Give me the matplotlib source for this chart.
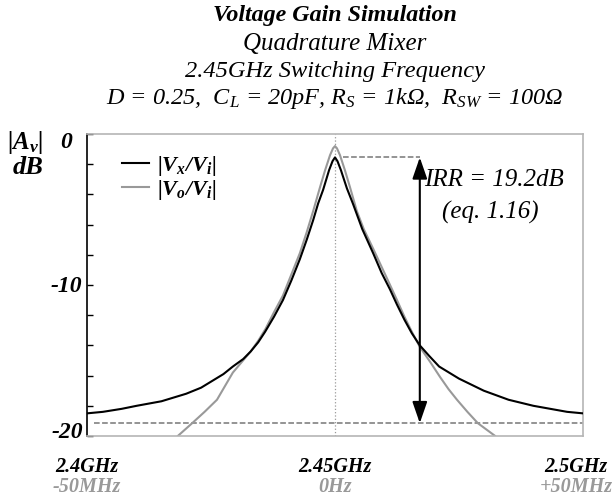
import matplotlib
matplotlib.use("Agg")
import matplotlib.pyplot as plt

plt.rcParams['font.family'] = ['Liberation Serif', 'DejaVu Serif']
plt.rcParams['mathtext.fontset'] = 'custom'
plt.rcParams['mathtext.rm'] = 'Liberation Serif'
plt.rcParams['mathtext.it'] = 'Liberation Serif:italic'
plt.rcParams['mathtext.bf'] = 'Liberation Serif:bold'
plt.rcParams['mathtext.bfit'] = 'Liberation Serif:italic:bold'

# offset from 2.45GHz, MHz / gain, dB
f_vx = [-50, -46.8, -43, -40, -35, -30, -27, -25, -22.5, -20.6, -18.5, -17, -15.5, -14.1, -12.3, -10.5, -8.8, -7.1,
        -5.7, -4.4, -3.4, -2.4, -1.2, -0.5, 0,
        0.5, 1.2, 2.4, 3.6, 5.5, 7.7, 9.4, 11.1, 12.5, 14, 15.5, 17.1, 19, 21, 23, 25, 27.5, 30, 35, 40, 46.8, 50]
vx = [-18.5, -18.4, -18.2, -18.0, -17.7, -17.2, -16.8, -16.4, -15.9, -15.4, -14.9, -14.4, -13.8, -13.1, -12.1, -11.0, -9.7, -8.3,
      -7.0, -5.7, -4.6, -3.7, -2.4, -1.8, -1.55,
      -1.8, -2.4, -3.6, -4.6, -6.3, -7.9, -9.2, -10.3, -11.3, -12.3, -13.2, -14.0, -14.7, -15.4, -15.8, -16.2, -16.6, -17.0,
      -17.6, -18.0, -18.4, -18.5]

f_vo = [-34, -31.7, -28.8, -26.3, -23.8, -22.2, -20.6, -18.8, -17, -15.5, -14, -12.3, -10.5, -8.8, -7.1, -5.7, -4.4, -3,
        -2, -1, -0.4, 0,
        0.4, 1, 2, 3, 4.4, 5.8, 7.7, 9.4, 11.1, 12.5, 14, 15.5, 17.1, 19.2, 21.2, 22.9, 24.6, 26.7, 28.8, 32.3, 34.5]
vo = [-21.3, -20.0, -19.15, -18.4, -17.6, -16.7, -15.8, -15.1, -14.4, -13.7, -12.9, -11.8, -10.7, -9.3, -7.9, -6.5, -5.1,
      -3.5, -2.4, -1.4, -0.95, -0.8,
      -0.95, -1.4, -2.4, -3.5, -5.1, -6.3, -7.6, -8.8, -10.0, -11.0, -12.1, -13.1, -14.1, -15.1, -16.1, -16.9, -17.6, -18.4,
      -19.15, -20.0, -21.3]

peak_db = -1.55
floor_db = -19.15
f_arrow = 17.1
yticks = [0, -10, -20]
ylabels = ['0', '-10', '-20']
xlabels_top = ['2.4GHz', '2.45GHz', '2.5GHz']
xlabels_bot = ['-50MHz', '0Hz', '+50MHz']
xpos = [-50, 0, 48.6]

fig = plt.figure(figsize=(6.13, 5.0), dpi=100)
ax = fig.add_axes([0.142, 0.128, 0.809, 0.604])

ax.axvline(0, color='#999999', ls=':', lw=0.9)
ax.plot([1.6, f_arrow], [peak_db, peak_db], color='#777777', ls='--', lw=1.1)
ax.plot([-48.5, 50], [floor_db, floor_db], color='#777777', ls='--', lw=1.1)

ax.plot(f_vx, vx, color='black', lw=1.5, label=r'$\mathbfit{|V_x/V_i|}$', zorder=3)
ax.plot(f_vo, vo, color='#999999', lw=1.5, label=r'$\mathbfit{|V_o/V_i|}$', zorder=2)

ax.annotate('', xy=(f_arrow, floor_db), xytext=(f_arrow, peak_db),
            arrowprops=dict(arrowstyle='<|-|>,head_length=1.3,head_width=0.45', color='black', lw=1.5,
                            mutation_scale=10, shrinkA=0, shrinkB=0))
ax.text(17.9, -3.05, 'IRR = 19.2dB', fontsize=18, style='italic', ha='left', va='center')
ax.text(31.3, -5.2, '(eq. 1.16)', fontsize=18, style='italic', ha='center', va='center')

ax.set_xlim(-50, 50)
ax.set_ylim(-20, 0)
ax.set_xticks([])
ax.set_yticks(yticks)
ax.set_yticks(range(-20, 1, 2), minor=True)
ax.set_yticklabels([])
ax.tick_params(axis='y', which='both', direction='in', length=4, width=1)

# y tick labels placed by hand, the "0" sits a bit lower and further out
ytr = ax.get_yaxis_transform()
label_x = [-0.030, -0.010, -0.008]
label_y = [-0.55, -10.1, -19.8]
for lx, ly, t in zip(label_x, label_y, ylabels):
    ax.text(lx, ly, t, transform=ytr, fontsize=17, fontweight='bold', style='italic', ha='right', va='center')

for s in ['top', 'right', 'bottom']:
    ax.spines[s].set_color('#b5b5b5')
    ax.spines[s].set_linewidth(1.2)
ax.spines['left'].set_color('black')
ax.spines['left'].set_linewidth(1.2)

for x, t1, t2 in zip(xpos, xlabels_top, xlabels_bot):
    ax.text(x, -22.05, t1, fontsize=14.5, fontweight='bold', style='italic', ha='center', va='center')
    ax.text(x, -23.4, t2, fontsize=14.5, fontweight='bold', style='italic', color='#999999',
            ha='center', va='center')

leg = ax.legend(loc='upper left', bbox_to_anchor=(0.03, 1.0), frameon=False, fontsize=16,
                handlelength=1.2, handletextpad=0.4, labelspacing=0.0)

fig.text(0.041, 0.716, r'$\mathbfit{|A_v|}$', fontsize=18, ha='center', va='center')
fig.text(0.046, 0.666, 'dB', fontsize=19, fontweight='bold', style='italic', ha='center', va='center')

fig.text(0.546, 0.968, 'Voltage Gain Simulation', fontsize=17.3, fontweight='bold', style='italic',
         ha='center', va='center')
fig.text(0.546, 0.913, 'Quadrature Mixer', fontsize=18, style='italic', ha='center', va='center')
fig.text(0.546, 0.858, '2.45GHz Switching Frequency', fontsize=17.6, style='italic', ha='center', va='center')
fig.text(0.546, 0.803, r'D = 0.25,  $C_L$ = 20pF, $R_S$ = 1kΩ,  $R_{SW}$ = 100Ω', fontsize=17.5, style='italic',
         ha='center', va='center')

fig.savefig('out.png', dpi=100)
